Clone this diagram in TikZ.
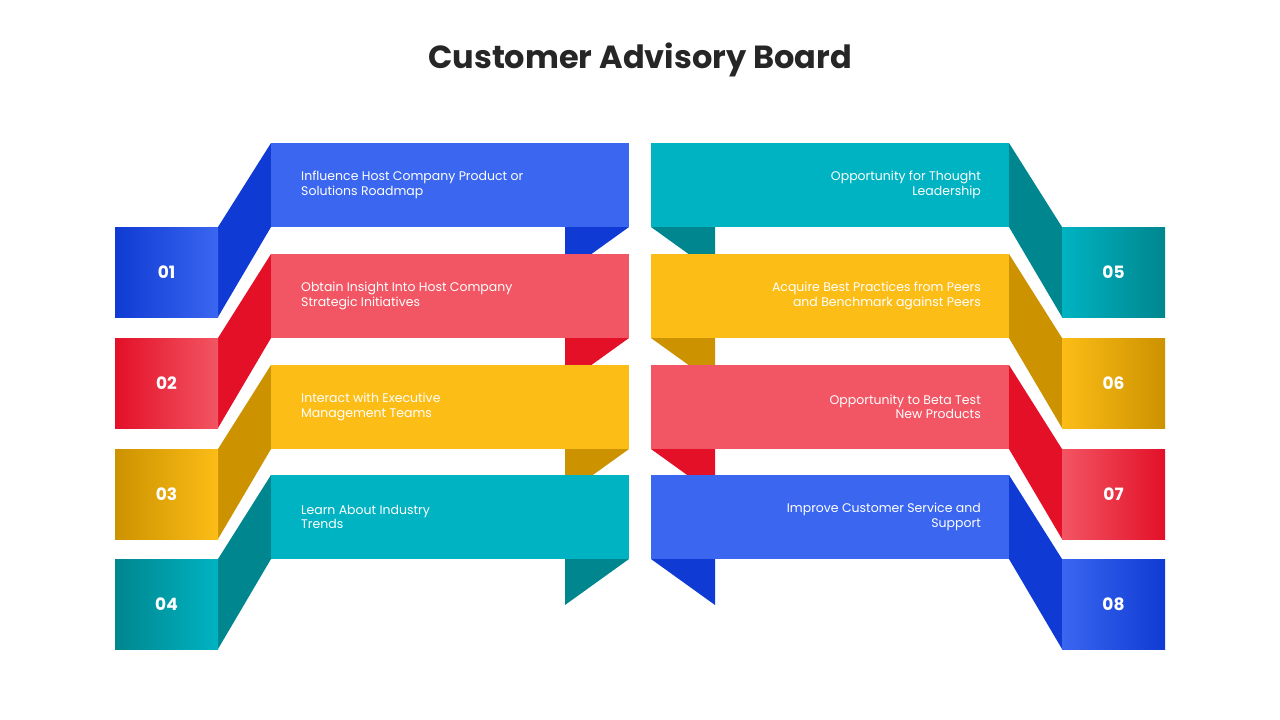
\documentclass[tikz,border=0pt]{standalone}
\usepackage{fontspec}
\setmainfont{Poppins}
\definecolor{bluel}{HTML}{3A66F0}\definecolor{blued}{HTML}{0F3BD4}
\definecolor{redl}{HTML}{F25563}\definecolor{redd}{HTML}{E31028}
\definecolor{yell}{HTML}{FCBD17}\definecolor{yeld}{HTML}{CC9200}
\definecolor{teall}{HTML}{00B3C2}\definecolor{teald}{HTML}{00868F}
\begin{document}
\begin{tikzpicture}[x=1pt,y=-1pt,
  txt/.style={text=white,font=\fontsize{12.5}{14.5}\selectfont,inner sep=0pt},
  num/.style={text=white,font=\fontsize{17}{20}\selectfont\bfseries}]
\useasboundingbox (0,0) rectangle (1280,720);
\node[font=\fontsize{32}{38}\selectfont\bfseries,text=black!85] (title) at (640,60) {Customer Advisory Board};

% left ribbons
\foreach \t/\c/\n/\la/\lb [count=\i] in {143/blue/01/Influence Host Company Product or/Solutions Roadmap,
  254/red/02/Obtain Insight Into Host Company/Strategic Initiatives,
  365/yel/03/Interact with Executive/Management Teams,
  475/teal/04/Learn About Industry/Trends}{
  \fill[\c d] (565,\t+84) -- (629,\t+84) -- (565,\t+130) -- cycle;
  \fill[\c d] (218,\t+84) -- (271,\t) -- (271,\t+84) -- (218,\t+174) -- cycle;
  \shade[left color=\c d,right color=\c l] (115,\t+84) rectangle (218,\t+174);
  \fill[\c l] (271,\t) rectangle (629,\t+84);
  \node[txt,anchor=west,align=left] (l\i) at (301,\t+42) {\la\\\lb};
  \node[num] (nl\i) at (166.5,\t+129) {\n};
}
% right ribbons
\foreach \t/\c/\n/\la/\lb [count=\i] in {143/teal/05/Opportunity for Thought/Leadership,
  254/yel/06/Acquire Best Practices from Peers/and Benchmark against Peers,
  365/red/07/Opportunity to Beta Test/New Products,
  475/blue/08/Improve Customer Service and/Support}{
  \fill[\c d] (651,\t+84) -- (715,\t+84) -- (715,\t+130) -- cycle;
  \fill[\c d] (1009,\t) -- (1062,\t+84) -- (1062,\t+174) -- (1009,\t+84) -- cycle;
  \shade[left color=\c l,right color=\c d] (1062,\t+84) rectangle (1165,\t+174);
  \fill[\c l] (651,\t) rectangle (1009,\t+84);
  \node[txt,anchor=east,align=right] (r\i) at (981,\t+42) {\la\\\lb};
  \node[num] (nr\i) at (1113.5,\t+129) {\n};
}
\end{tikzpicture}
\end{document}
